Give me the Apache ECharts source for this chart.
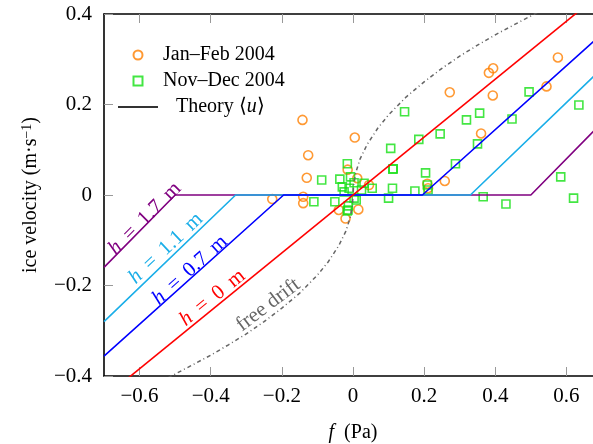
<!DOCTYPE html>
<html>
<head>
<meta charset="utf-8">
<script src="https://cdn.jsdelivr.net/npm/echarts@6/dist/echarts.min.js"></script>
<style>
  html, body { margin: 0; padding: 0; background: #fff; overflow: hidden; }
  /* the figure is cropped on the right, so the canvas is wider than the window */
  #chart { width: 612px; height: 444px; }
</style>
</head>
<body>
<div id="chart"></div>
<script>
// tick labels
var xTicks = [-0.6, -0.4, -0.2, 0, 0.2, 0.4, 0.6];
var yTicks = [-0.4, -0.2, 0, 0.2, 0.4];

// observations: forcing f (Pa) and ice velocity u (m/s)
var janFebF = [-0.227, -0.142, -0.126, -0.130, -0.140, -0.140, -0.040, -0.021, -0.015, 0.005,
  0.012, 0.015, 0.045, 0.209, 0.211, 0.258, 0.272, 0.360, 0.382, 0.394, 0.393, 0.544, 0.576];
var janFebU = [-0.009, 0.166, 0.088, 0.038, -0.004, -0.018, -0.033, -0.052, 0.056, 0.127,
  0.037, -0.032, 0.022, 0.025, 0.015, 0.031, 0.227, 0.136, 0.270, 0.280, 0.220, 0.240, 0.304];

var novDecF = [0.145, 0.185, 0.245, 0.319, 0.356, 0.447, 0.495, 0.635, 0.350, 0.288,
  0.204, 0.209, 0.174, 0.211, 0.366, 0.430, 0.584, 0.620, 0.106, 0.112, -0.016, 0.054,
  0.111, -0.088, -0.037, -0.007, 0.113, 0.100, -0.110, -0.051, -0.014, 0.009, -0.011,
  -0.025, 0.024, 0.003, 0.031, -0.013, -0.016, -0.030, 0.003];
var novDecU = [0.184, 0.123, 0.135, 0.166, 0.181, 0.168, 0.228, 0.199, 0.113, 0.069,
  0.049, 0.022, 0.009, 0.011, -0.004, -0.020, 0.040, -0.007, 0.103, 0.057, 0.069, 0.015,
  0.015, 0.033, 0.035, 0.040, 0.058, -0.007, -0.015, -0.015, -0.033, -0.011, 0.015,
  0.007, 0.011, 0.027, 0.026, -0.024, -0.035, 0.018, -0.007];

// theory <u>, one line per ice thickness (ends and kinks)
var h0F = [-0.7, 0.7];
var h0U = [-0.448, 0.448];
var h07F = [-0.7, -0.195, 0.195, 0.7];
var h07U = [-0.356, 0, 0, 0.356];
var h11F = [-0.7, -0.33, 0.33, 0.7];
var h11U = [-0.28, 0, 0, 0.28];
var h17F = [-0.7, -0.5, 0.5, 0.7];
var h17U = [-0.16, 0, 0, 0.16];

// free drift curve
var driftF = [-0.52, -0.45, -0.4, -0.35, -0.3, -0.25, -0.2, -0.15, -0.1, -0.07, -0.04, -0.02,
  -0.008, -0.002, 0, 0.002, 0.008, 0.02, 0.04, 0.07, 0.1, 0.15, 0.2, 0.25, 0.3, 0.35, 0.4, 0.45, 0.52];
var driftU = [-0.404, -0.375, -0.354, -0.331, -0.307, -0.28, -0.25, -0.217, -0.177, -0.148, -0.112, -0.08,
  -0.05, -0.025, 0, 0.025, 0.05, 0.08, 0.112, 0.148, 0.177, 0.217, 0.25, 0.28, 0.307, 0.331, 0.354, 0.375, 0.404];

var FONT = 'Liberation Serif';
var RED = '#ff0000', BLUE = '#0000ff', LIGHTBLUE = '#1aaee8', PURPLE = '#800080';
var ORANGE = '#ff8000', GREEN = '#14e014', GREY = '#666666';

function pairs(xs, ys) {
  return xs.map(function (x, i) { return [x, ys[i]]; });
}
function fmt(v) {
  return String(v).replace('-', '\u2212');
}

function theoryLine(xs, ys, color, z) {
  return {
    type: 'line', data: pairs(xs, ys), symbol: 'none', silent: true, z: z,
    lineStyle: { color: color, width: 1.6 }, itemStyle: { color: color }
  };
}

var myChart = echarts.init(document.getElementById('chart'), null, { renderer: 'canvas' });

var axisCommon = {
  axisLine: { show: true, onZero: false, lineStyle: { color: '#000', width: 1.6 } },
  axisTick: { show: true, inside: true, length: 9, lineStyle: { color: '#999', width: 1 } },
  splitLine: { show: false }
};
var italic = { fontFamily: FONT, fontSize: 20, fontStyle: 'italic' };

var option = {
  backgroundColor: '#fff',
  animation: false,
  grid: { left: 104, top: 14, width: 498, height: 362, outerBoundsMode: 'none', containLabel: false },
  legend: {
    left: 113, top: 40, orient: 'vertical',
    itemWidth: 40, itemHeight: 9, itemGap: 6,
    textStyle: {
      fontFamily: FONT, fontSize: 20, color: '#000',
      rich: { i: italic, sp: { width: 13 } }
    },
    formatter: function (name) {
      if (name.indexOf('Theory') === 0) return '{sp|}Theory \u27e8{i|u}\u27e9';
      return name;
    },
    data: [
      { name: 'Jan\u2013Feb 2004', icon: 'circle' },
      { name: 'Nov\u2013Dec 2004', icon: 'path://M0,0L10,0L10,10L0,10Z' },
      { name: 'Theory \u27e8u\u27e9', icon: 'path://M0,0L40,0L40,1.8L0,1.8Z' }
    ]
  },
  xAxis: [
    Object.assign({}, axisCommon, {
      type: 'value', min: -0.7, max: 0.7, position: 'bottom',
      axisTick: Object.assign({}, axisCommon.axisTick, { customValues: xTicks }),
      axisLabel: { customValues: xTicks, formatter: fmt, fontFamily: FONT, fontSize: 21, color: '#000', margin: 10 },
      name: '{i|f}  (Pa)', nameLocation: 'middle', nameGap: 47,
      nameTextStyle: { fontFamily: FONT, fontSize: 20, color: '#000', rich: { i: italic } }
    }),
    Object.assign({}, axisCommon, {
      type: 'value', min: -0.7, max: 0.7, position: 'top',
      axisTick: Object.assign({}, axisCommon.axisTick, { customValues: xTicks }),
      axisLabel: { show: false }
    })
  ],
  yAxis: [
    Object.assign({}, axisCommon, {
      type: 'value', min: -0.4, max: 0.4, position: 'left',
      axisTick: Object.assign({}, axisCommon.axisTick, { customValues: yTicks }),
      axisLabel: { customValues: yTicks, formatter: fmt, fontFamily: FONT, fontSize: 21, color: '#000', margin: 12 },
      name: 'ice velocity (m\u00b7s{s|\u22121})', nameLocation: 'middle', nameGap: 62,
      nameTextStyle: { fontFamily: FONT, fontSize: 20, color: '#000', rich: { s: { fontFamily: FONT, fontSize: 14, verticalAlign: 'top', padding: [0, 0, 8, 0] } } }
    }),
    Object.assign({}, axisCommon, {
      type: 'value', min: -0.4, max: 0.4, position: 'right',
      axisTick: Object.assign({}, axisCommon.axisTick, { customValues: yTicks }),
      axisLabel: { show: false }
    })
  ],
  series: [
    {
      name: 'Jan\u2013Feb 2004', type: 'scatter', data: pairs(janFebF, janFebU),
      symbol: 'circle', symbolSize: 9, z: 2,
      itemStyle: { color: 'rgba(0,0,0,0)', borderColor: ORANGE, borderWidth: 1.6 }
    },
    {
      name: 'Nov\u2013Dec 2004', type: 'scatter', data: pairs(novDecF, novDecU),
      symbol: 'rect', symbolSize: 8, z: 2,
      itemStyle: { color: 'rgba(0,0,0,0)', borderColor: GREEN, borderWidth: 1.6 }
    },
    {
      // legend entry only
      name: 'Theory \u27e8u\u27e9', type: 'scatter', data: [],
      itemStyle: { color: '#000' }
    },
    theoryLine(h17F, h17U, PURPLE, 3),
    theoryLine(h11F, h11U, LIGHTBLUE, 4),
    theoryLine(h07F, h07U, BLUE, 5),
    theoryLine(h0F, h0U, RED, 6),
    {
      type: 'line', data: pairs(driftF, driftU), symbol: 'none', silent: true, z: 3,
      lineStyle: { color: GREY, width: 1.5, type: [4, 3, 1, 3] }
    }
  ]
};

myChart.setOption(option);

// rotated labels placed along each curve (anchor in data units, angle in degrees)
var notes = [
  { text: '{i|h} \u2009=\u2009 1.7\u2009 m', at: [-0.585, -0.052], angle: 45, color: PURPLE },
  { text: '{i|h} \u2009=\u2009 1.1\u2009 m', at: [-0.526, -0.118], angle: 43.5, color: LIGHTBLUE },
  { text: '{i|h} \u2009=\u2009 0.7\u2009 m', at: [-0.458, -0.166], angle: 42, color: BLUE },
  { text: '{i|h} \u2009=\u2009 0\u2009 m', at: [-0.395, -0.227], angle: 39, color: RED },
  { text: 'free drift', at: [-0.238, -0.243], angle: 37, color: GREY }
];
var graphics = notes.map(function (n) {
  var p = myChart.convertToPixel({ gridIndex: 0 }, n.at);
  return {
    type: 'text', x: p[0], y: p[1], rotation: n.angle * Math.PI / 180, z: 10,
    style: {
      text: n.text, fill: n.color, font: '21px "' + FONT + '"',
      align: 'center', verticalAlign: 'middle',
      rich: { i: { fontStyle: 'italic', fontFamily: FONT, fontSize: 21, fill: n.color } }
    }
  };
});
myChart.setOption({ graphic: graphics });
</script>
</body>
</html>
